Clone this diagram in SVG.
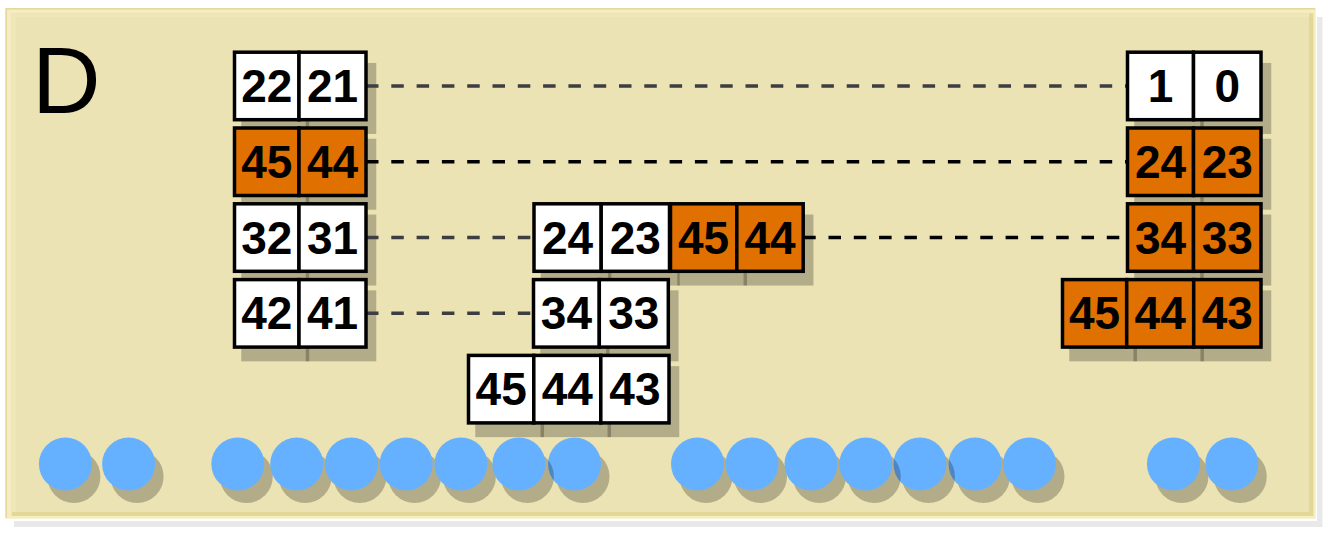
<svg xmlns="http://www.w3.org/2000/svg" width="1334" height="536" viewBox="0 0 1334 536">
<style>
.cw{fill:#ffffff;stroke:#000;stroke-width:3.5}
.co{fill:#e07000;stroke:#000;stroke-width:3.5}
.t{font-family:"Liberation Sans",Arial,sans-serif;font-weight:bold;font-size:46px;fill:#000;text-anchor:middle}
.sh{fill:#000;fill-opacity:0.24}
.dg{stroke:#3c3e42;stroke-width:3.5;stroke-dasharray:12.5 12.8;fill:none}
.db{stroke:#000;stroke-width:3.5;stroke-dasharray:12.5 12.8;fill:none}
.tok{fill:#66b1ff}
</style>
<rect x="0" y="0" width="1334" height="536" fill="#ffffff"/>
<g id="panel">
<rect x="14" y="17" width="1308.5" height="510" fill="#e9e9e9"/>
<rect x="4" y="6.5" width="1313" height="514.5" fill="#ffffff"/>
<rect x="5.5" y="8" width="1310.2" height="510.7" fill="#f5edc1"/>
<path d="M6.2,518 V8.7 H1315" fill="none" stroke="#e3d89a" stroke-width="1.5"/>
<rect x="11.7" y="13.3" width="1301.6" height="502.7" fill="#e2d794"/>
<rect x="11.7" y="13.3" width="1297.3" height="498.7" fill="#efe7b8"/>
<rect x="16" y="17" width="1293" height="495" fill="#ebe3b3"/>
<text x="32" y="113" font-family="Liberation Sans, Arial, sans-serif" font-size="95" fill="#000">D</text>
</g>
<g id="shadows">
<!-- row1 -->
<rect class="sh" x="241.25" y="62.95" width="68" height="71"/><rect class="sh" x="305.75" y="62.95" width="70.5" height="71"/>
<rect class="sh" x="1134.25" y="62.95" width="69.5" height="71"/><rect class="sh" x="1200.25" y="62.95" width="71" height="71"/>
<!-- row2 -->
<rect class="sh" x="241.25" y="138.75" width="68" height="71"/><rect class="sh" x="305.75" y="138.75" width="70.5" height="71"/>
<rect class="sh" x="1134.25" y="138.75" width="69.5" height="71"/><rect class="sh" x="1200.25" y="138.75" width="71" height="71"/>
<!-- row3 -->
<rect class="sh" x="241.25" y="214.55" width="68" height="71"/><rect class="sh" x="305.75" y="214.55" width="70.5" height="71"/>
<rect class="sh" x="540.75" y="214.55" width="70.7" height="71"/><rect class="sh" x="607.95" y="214.55" width="71.8" height="71"/>
<rect class="sh" x="677.25" y="214.55" width="69.8" height="71"/><rect class="sh" x="743.55" y="214.55" width="69.9" height="71"/>
<rect class="sh" x="1134.25" y="214.55" width="69.5" height="71"/><rect class="sh" x="1200.25" y="214.55" width="71" height="71"/>
<!-- row4 -->
<rect class="sh" x="241.25" y="290.35" width="68" height="71"/><rect class="sh" x="305.75" y="290.35" width="70.5" height="71"/>
<rect class="sh" x="540.25" y="290.35" width="69.3" height="71"/><rect class="sh" x="606.05" y="290.35" width="72.5" height="71"/>
<rect class="sh" x="1069.25" y="290.35" width="67.7" height="71"/><rect class="sh" x="1133.45" y="290.35" width="70.5" height="71"/><rect class="sh" x="1200.45" y="290.35" width="70.8" height="71"/>
<!-- row5 -->
<rect class="sh" x="475.25" y="366.15" width="68.8" height="71"/><rect class="sh" x="540.55" y="366.15" width="70.5" height="71"/><rect class="sh" x="607.55" y="366.15" width="71.7" height="71"/>
</g>
<g id="connectors">
<line class="dg" x1="366" y1="85.9" x2="1127.5" y2="85.9"/>
<line class="db" x1="366" y1="161.7" x2="1127.5" y2="161.7"/>
<line class="dg" x1="366" y1="237.5" x2="534" y2="237.5"/>
<line class="db" x1="803.2" y1="237.5" x2="1127.5" y2="237.5"/>
<line class="dg" x1="366" y1="313.3" x2="533.5" y2="313.3"/>
</g>
<g id="box-22-21">
<rect class="cw" x="234.5" y="52.2" width="64.5" height="67.5"/><rect class="cw" x="299" y="52.2" width="67" height="67.5"/>
<text class="t" x="266.75" y="102">22</text><text class="t" x="332.5" y="102">21</text>
</g>
<g id="box-1-0">
<rect class="cw" x="1127.5" y="52.2" width="66" height="67.5"/><rect class="cw" x="1193.5" y="52.2" width="67.5" height="67.5"/>
<text class="t" x="1160.5" y="102">1</text><text class="t" x="1227.25" y="102">0</text>
</g>
<g id="box-45-44-a">
<rect class="co" x="234.5" y="128" width="64.5" height="67.5"/><rect class="co" x="299" y="128" width="67" height="67.5"/>
<text class="t" x="266.75" y="177.8">45</text><text class="t" x="332.5" y="177.8">44</text>
</g>
<g id="box-24-23-a">
<rect class="co" x="1127.5" y="128" width="66" height="67.5"/><rect class="co" x="1193.5" y="128" width="67.5" height="67.5"/>
<text class="t" x="1160.5" y="177.8">24</text><text class="t" x="1227.25" y="177.8">23</text>
</g>
<g id="box-32-31">
<rect class="cw" x="234.5" y="203.8" width="64.5" height="67.5"/><rect class="cw" x="299" y="203.8" width="67" height="67.5"/>
<text class="t" x="266.75" y="253.6">32</text><text class="t" x="332.5" y="253.6">31</text>
</g>
<g id="box-24-23-45-44">
<rect class="cw" x="534" y="203.8" width="67.2" height="67.5"/><rect class="cw" x="601.2" y="203.8" width="68.3" height="67.5"/>
<rect class="co" x="670.5" y="203.8" width="66.3" height="67.5"/><rect class="co" x="736.8" y="203.8" width="66.4" height="67.5"/>
<text class="t" x="567.6" y="253.6">24</text><text class="t" x="635.3" y="253.6">23</text>
<text class="t" x="703.6" y="253.6">45</text><text class="t" x="770" y="253.6">44</text>
</g>
<g id="box-34-33-a">
<rect class="co" x="1127.5" y="203.8" width="66" height="67.5"/><rect class="co" x="1193.5" y="203.8" width="67.5" height="67.5"/>
<text class="t" x="1160.5" y="253.6">34</text><text class="t" x="1227.25" y="253.6">33</text>
</g>
<g id="box-42-41">
<rect class="cw" x="234.5" y="279.6" width="64.5" height="67.5"/><rect class="cw" x="299" y="279.6" width="67" height="67.5"/>
<text class="t" x="266.75" y="329.4">42</text><text class="t" x="332.5" y="329.4">41</text>
</g>
<g id="box-34-33-b">
<rect class="cw" x="533.5" y="279.6" width="65.8" height="67.5"/><rect class="cw" x="599.3" y="279.6" width="69" height="67.5"/>
<text class="t" x="566.4" y="329.4">34</text><text class="t" x="633.8" y="329.4">33</text>
</g>
<g id="box-45-44-43-a">
<rect class="co" x="1062.5" y="279.6" width="64.2" height="67.5"/><rect class="co" x="1126.7" y="279.6" width="67" height="67.5"/><rect class="co" x="1193.7" y="279.6" width="67.3" height="67.5"/>
<text class="t" x="1094.6" y="329.4">45</text><text class="t" x="1160.2" y="329.4">44</text><text class="t" x="1227.35" y="329.4">43</text>
</g>
<g id="box-45-44-43-b">
<rect class="cw" x="468.5" y="355.4" width="65.3" height="67.5"/><rect class="cw" x="533.8" y="355.4" width="67" height="67.5"/><rect class="cw" x="600.8" y="355.4" width="68.2" height="67.5"/>
<text class="t" x="501.15" y="405.2">45</text><text class="t" x="567.3" y="405.2">44</text><text class="t" x="634.9" y="405.2">43</text>
</g>
<g id="tokens">
<circle class="sh" cx="73.9" cy="476.5" r="26.5"/><circle class="tok" cx="65.4" cy="464" r="26.5"/>
<circle class="sh" cx="137.1" cy="476.5" r="26.5"/><circle class="tok" cx="128.6" cy="464" r="26.5"/>
<circle class="sh" cx="246.3" cy="476.5" r="26.5"/><circle class="tok" cx="237.8" cy="464" r="26.5"/>
<circle class="sh" cx="305.2" cy="476.5" r="26.5"/><circle class="tok" cx="296.7" cy="464" r="26.5"/>
<circle class="sh" cx="359.9" cy="476.5" r="26.5"/><circle class="tok" cx="351.4" cy="464" r="26.5"/>
<circle class="sh" cx="414.6" cy="476.5" r="26.5"/><circle class="tok" cx="406.1" cy="464" r="26.5"/>
<circle class="sh" cx="469.4" cy="476.5" r="26.5"/><circle class="tok" cx="460.9" cy="464" r="26.5"/>
<circle class="sh" cx="583" cy="476.5" r="26.5"/><circle class="tok" cx="574.5" cy="464" r="26.5"/>
<circle class="sh" cx="527.4" cy="476.5" r="26.5"/><circle class="tok" cx="518.9" cy="464" r="26.5"/>
<circle class="sh" cx="706" cy="476.5" r="26.5"/><circle class="tok" cx="697.5" cy="464" r="26.5"/>
<circle class="sh" cx="760.5" cy="476.5" r="26.5"/><circle class="tok" cx="752" cy="464" r="26.5"/>
<circle class="sh" cx="819.5" cy="476.5" r="26.5"/><circle class="tok" cx="811" cy="464" r="26.5"/>
<circle class="sh" cx="983.5" cy="476.5" r="26.5"/><circle class="tok" cx="975" cy="464" r="26.5"/>
<circle class="sh" cx="928.5" cy="476.5" r="26.5"/><circle class="tok" cx="920" cy="464" r="26.5"/>
<circle class="sh" cx="874.3" cy="476.5" r="26.5"/><circle class="tok" cx="865.8" cy="464" r="26.5"/>
<circle class="sh" cx="1038" cy="476.5" r="26.5"/><circle class="tok" cx="1029.5" cy="464" r="26.5"/>
<circle class="sh" cx="1181.9" cy="476.5" r="26.5"/><circle class="tok" cx="1173.4" cy="464" r="26.5"/>
<circle class="sh" cx="1240.3" cy="476.5" r="26.5"/><circle class="tok" cx="1231.8" cy="464" r="26.5"/>
</g>
</svg>
